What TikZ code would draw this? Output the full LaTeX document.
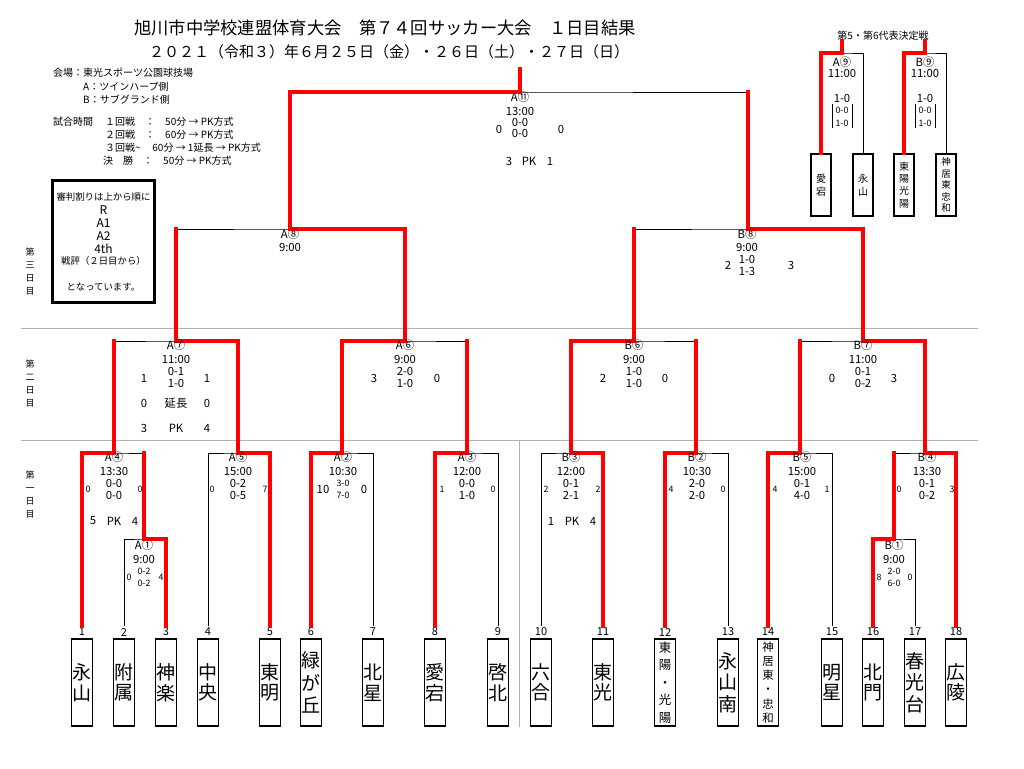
\documentclass[tikz,border=0pt]{standalone}
\usepackage{fontspec}
\setmainfont{Noto Sans CJK JP}
\newcommand{\mtext}[8][txt]{%
  \node[txt] (#2lab) at (#3,#4) {#5};
  \node[txt] (#2tim) at (#3,#4+14) {#6};
  \node[#1] (#2ha) at (#3,#4+26) {#7};
  \node[#1] (#2hb) at (#3,#4+38) {#8};
}
\begin{document}
\begin{tikzpicture}[x=1pt,y=-1pt,
 bk/.style={line width=0.9pt,draw=black},
 rd/.style={line width=3.9pt,draw=red,line cap=rect,line join=miter},
 gr/.style={line width=1pt,draw=black!30},
 txt/.style={inner sep=0pt,font=\fontsize{11.3}{12}\selectfont},
 sm/.style={inner sep=0pt,font=\fontsize{8.8}{10}\selectfont},
 num/.style={inner sep=1.5pt,font=\fontsize{11}{12}\selectfont},
 team/.style={draw,line width=1.3pt,minimum width=21pt,minimum height=87pt,inner sep=0pt,align=center},
 pbox/.style={draw,line width=1.2pt,minimum width=20pt,minimum height=62pt,inner sep=0pt,align=center},
 info/.style={anchor=west,inner sep=0pt,font=\fontsize{10}{12}\selectfont},
 day/.style={inner sep=0pt,align=center,font=\fontsize{9}{13}\selectfont},
 reftxt/.style={inner sep=0pt,font=\fontsize{9.4}{12}\selectfont},
 refbig/.style={inner sep=0pt,font=\fontsize{12}{13}\selectfont},
]
\useasboundingbox (0,0) rectangle (1024,768);
\fill[white] (0,0) rectangle (1024,768);

% titles
\node[inner sep=0pt,font=\fontsize{17.3}{20}\selectfont] (title) at (385,28) {旭川市中学校連盟体育大会　第７４回サッカー大会　１日目結果};
\node[inner sep=0pt,font=\fontsize{15}{18}\selectfont] (sub) at (389,52) {２０２１（令和３）年６月２５日（金）・２６日（土）・２７日（日）};

% info
\node[info] (i1) at (53,73) {会場：東光スポーツ公園球技場};
\node[info] (i2) at (83,87) {A：ツインハープ側};
\node[info] (i3) at (83,100) {B：サブグランド側};
\node[info] (i4) at (53,122) {試合時間};
\node[info] (i5) at (105,122) {１回戦　：　50分 → PK方式};
\node[info] (i6) at (105,135) {２回戦　：　60分 → PK方式};
\node[info] (i7) at (105,148) {３回戦\textasciitilde\,　60分 → 1延長 → PK方式};
\node[info] (i8) at (103,161) {決　勝　：　50分 → PK方式};

% referee box
\node[draw,line width=2.6pt,minimum width=102pt,minimum height=122pt,inner sep=0pt] (ref) at (103.5,241.5) {};
\node[reftxt] (r1) at (103.5,197) {審判割りは上から順に};
\node[refbig] (r2) at (103.5,210) {R};
\node[refbig] (r3) at (103.5,223) {A1};
\node[refbig] (r4) at (103.5,236) {A2};
\node[refbig] (r5) at (103.5,249) {4th};
\node[reftxt] (r6) at (103.5,261) {戦評（２日目から）};
\node[reftxt] (r7) at (103.5,287) {となっています。};

% day labels
\node[day] (d3) at (30,271.5) {第\\三\\日\\目};
\node[day] (d2) at (30,384) {第\\二\\日\\目};
\node[day] (d1) at (30,495) {第\\一\\日\\目};

% grey separators
\draw[gr] (21,328) -- (978,328);
\draw[gr] (21,440) -- (978,440);
\draw[gr] (519,441) -- (519,727);

% team numbers and boxes
\foreach \i/\x in {1/82,2/124,3/166,4/208,5/270,6/311,7/373,8/435,9/498,10/541,11/603,12/665,13/728,14/768,15/832,16/873,17/915,18/956}
  \node[num] (n\i) at (\x,632) {\i};

\begin{scope}[every node/.append style={font=\fontsize{19}{20.5}\selectfont}]
\node[team] (T1) at (82,682.5) {永\\山};
\node[team] (T2) at (124,682.5) {附\\属};
\node[team] (T3) at (166,682.5) {神\\楽};
\node[team] (T4) at (208,682.5) {中\\央};
\node[team] (T5) at (270,682.5) {東\\明};
\node[team,font=\fontsize{19}{22.5}\selectfont] (T6) at (311,682.5) {緑\\が\\丘};
\node[team] (T7) at (373,682.5) {北\\星};
\node[team] (T8) at (435,682.5) {愛\\宕};
\node[team] (T9) at (498,682.5) {啓\\北};
\node[team] (T10) at (541,682.5) {六\\合};
\node[team] (T11) at (603,682.5) {東\\光};
\node[team,font=\fontsize{12.5}{17.5}\selectfont] (T12) at (665,682.5) {東\\陽\\・\\光\\陽};
\node[team,font=\fontsize{19}{21.5}\selectfont] (T13) at (728,682.5) {永\\山\\南};
\node[team,font=\fontsize{11.5}{14.2}\selectfont] (T14) at (768,682.5) {神\\居\\東\\・\\忠\\和};
\node[team] (T15) at (832,682.5) {明\\星};
\node[team] (T16) at (873,682.5) {北\\門};
\node[team,font=\fontsize{19}{21.5}\selectfont] (T17) at (915,682.5) {春\\光\\台};
\node[team] (T18) at (956,682.5) {広\\陵};
\end{scope}

% match points
\coordinate (A1) at (144,539);
\coordinate (B1) at (894,539);
\coordinate (A4) at (114,453);
\coordinate (A5) at (238,453);
\coordinate (A2) at (342,453);
\coordinate (A3) at (467,453);
\coordinate (B3) at (571,453);
\coordinate (B2) at (696,453);
\coordinate (B5) at (800,453);
\coordinate (B4) at (925,453);
\coordinate (A7) at (176,341);
\coordinate (A6) at (405,341);
\coordinate (B6) at (634,341);
\coordinate (B7) at (863,341);
\coordinate (A8) at (290,229);
\coordinate (B8) at (748,229);
\coordinate (A11) at (520,92);
\coordinate (top) at (520,69);

% black brackets
\draw[bk] (n2.north) |- (A1) -| (n3.north);
\draw[bk] (n16.north) |- (B1) -| (n17.north);
\draw[bk] (n1.north) |- (A4) -| (A1);
\draw[bk] (n4.north) |- (A5) -| (n5.north);
\draw[bk] (n6.north) |- (A2) -| (n7.north);
\draw[bk] (n8.north) |- (A3) -| (n9.north);
\draw[bk] (n10.north) |- (B3) -| (n11.north);
\draw[bk] (n12.north) |- (B2) -| (n13.north);
\draw[bk] (n14.north) |- (B5) -| (n15.north);
\draw[bk] (B1) |- (B4) -| (n18.north);
\draw[bk] (A4) |- (A7) -| (A5);
\draw[bk] (A2) |- (A6) -| (A3);
\draw[bk] (B3) |- (B6) -| (B2);
\draw[bk] (B5) |- (B7) -| (B4);
\draw[bk] (A7) |- (A8) -| (A6);
\draw[bk] (B6) |- (B8) -| (B7);
\draw[bk] (A8) |- (A11) -| (B8);

% red winner paths
\draw[rd] (n1.north) |- (A4) -- (A4 |- A7);
\draw[rd] (n3.north) |- (A1) -- (A1 |- A4);
\draw[rd] (n5.north) |- (A5) |- (A7) -- (A7 |- A8);
\draw[rd] (n6.north) |- (A2) |- (A6) |- (A8) |- (A11) -- (top);
\draw[rd] (n8.north) |- (A3) -- (A3 |- A6);
\draw[rd] (n11.north) |- (B3) |- (B6) -- (B6 |- B8);
\draw[rd] (n12.north) |- (B2) -- (B2 |- B6);
\draw[rd] (n14.north) |- (B5) -- (B5 |- B7);
\draw[rd] (n16.north) |- (B1) -- (B1 |- B4);
\draw[rd] (n18.north) |- (B4) |- (B7) |- (B8) -- (B8 |- A11);

% match texts: final
\node[txt] (m11lab) at (520,97.5) {A⑪};
\node[txt] (m11tim) at (520,111) {13:00};
\node[txt] (m11ha) at (520,122) {0-0};
\node[txt] (m11hb) at (520,133) {0-0};
\node[txt] (m11L) at (499,129) {0};
\node[txt] (m11R) at (561,129) {0};
\node[txt] (m11pl) at (509,161) {3};
\node[txt] (m11pk) at (529,161) {PK};
\node[txt] (m11pr) at (550,161) {1};

% third round
\node[txt] (m8lab) at (290,234) {A⑧};
\node[txt] (m8tim) at (290,247) {9:00};
\node[txt] (mb8lab) at (747,234) {B⑧};
\node[txt] (mb8tim) at (747,247) {9:00};
\node[txt] (mb8ha) at (747,259) {1-0};
\node[txt] (mb8hb) at (747,271) {1-3};
\node[txt] (mb8L) at (728,265) {2};
\node[txt] (mb8R) at (791,265) {3};

% second round
\mtext{m7}{176}{345}{A⑦}{11:00}{0-1}{1-0}
\node[txt] (m7L) at (144,378) {1};
\node[txt] (m7R) at (207,378) {1};
\node[txt] (m7el) at (144,403) {0};
\node[txt] (m7e) at (176,403) {延長};
\node[txt] (m7er) at (207,403) {0};
\node[txt] (m7pl) at (144,428) {3};
\node[txt] (m7pk) at (176,428) {PK};
\node[txt] (m7pr) at (207,428) {4};
\mtext{m6}{405}{345}{A⑥}{9:00}{2-0}{1-0}
\node[txt] (m6L) at (374,378) {3};
\node[txt] (m6R) at (437,378) {0};
\mtext{mb6}{634}{345}{B⑥}{9:00}{1-0}{1-0}
\node[txt] (mb6L) at (603,378) {2};
\node[txt] (mb6R) at (665,378) {0};
\mtext{mb7}{863}{345}{B⑦}{11:00}{0-1}{0-2}
\node[txt] (mb7L) at (832,378) {0};
\node[txt] (mb7R) at (894,378) {3};

% first round
\mtext{m4}{114}{457}{A④}{13:30}{0-0}{0-0}
\node[sm] (m4L) at (88,489) {0};
\node[sm] (m4R) at (140,489) {0};
\node[txt] (m4pl) at (93,521) {5};
\node[txt] (m4pk) at (114,521) {PK};
\node[txt] (m4pr) at (135,521) {4};
\mtext{m5}{238}{457}{A⑤}{15:00}{0-2}{0-5}
\node[sm] (m5L) at (212,489) {0};
\node[sm] (m5R) at (265,489) {7};
\mtext[sm]{m2}{343}{457}{A②}{10:30}{3-0}{7-0}
\node[txt] (m2L) at (323,489) {10};
\node[txt] (m2R) at (364,489) {0};
\mtext{m3}{467}{457}{A③}{12:00}{0-0}{1-0}
\node[sm] (m3L) at (442,489) {1};
\node[sm] (m3R) at (493,489) {0};
\mtext{mb3}{571}{457}{B③}{12:00}{0-1}{2-1}
\node[sm] (mb3L) at (546,489) {2};
\node[sm] (mb3R) at (598,489) {2};
\node[txt] (mb3pl) at (551,521) {1};
\node[txt] (mb3pk) at (572,521) {PK};
\node[txt] (mb3pr) at (593,521) {4};
\mtext{mb2}{697}{457}{B②}{10:30}{2-0}{2-0}
\node[sm] (mb2L) at (671,489) {4};
\node[sm] (mb2R) at (723,489) {0};
\mtext{mb5}{802}{457}{B⑤}{15:00}{0-1}{4-0}
\node[sm] (mb5L) at (775,489) {4};
\node[sm] (mb5R) at (827,489) {1};
\mtext{mb4}{927}{457}{B④}{13:30}{0-1}{0-2}
\node[sm] (mb4L) at (899,489) {0};
\node[sm] (mb4R) at (952,489) {3};
\mtext[sm]{m1}{144}{545}{A①}{9:00}{0-2}{0-2}
\node[sm] (m1L) at (129,577) {0};
\node[sm] (m1R) at (161,577) {4};
\mtext[sm]{mb1}{894}{545}{B①}{9:00}{2-0}{6-0}
\node[sm] (mb1L) at (879,577) {8};
\node[sm] (mb1R) at (910,577) {0};

% 5th/6th place play-offs
\node[inner sep=0pt,font=\fontsize{10}{12}\selectfont] (pt) at (883,36) {第5・第6代表決定戦};
\node[pbox,font=\fontsize{10}{13}\selectfont] (P1) at (821,185) {愛\\宕};
\node[pbox,font=\fontsize{10}{13}\selectfont] (P2) at (863,185) {永\\山};
\node[pbox,font=\fontsize{10}{12.3}\selectfont] (P3) at (904,185) {東\\陽\\光\\陽};
\node[pbox,font=\fontsize{9.5}{11.5}\selectfont] (P4) at (946,185) {神\\居\\東\\忠\\和};
\coordinate (A9) at (842,53);
\coordinate (B9) at (925,53);
\draw[bk] (P1.north) |- (A9) -| (P2.north);
\draw[bk] (P3.north) |- (B9) -| (P4.north);
\draw[rd] (P1.north) |- (A9) -- (A9 |- pt.south);
\draw[rd] (P3.north) |- (B9) -- (B9 |- pt.south);
\node[txt] (m9lab) at (842,62) {A⑨};
\node[txt] (m9tim) at (842,73) {11:00};
\node[txt] (m9s) at (842,98) {1-0};
\node[sm] (m9ha) at (842,110) {0-0};
\node[sm] (m9hb) at (842,123) {1-0};
\draw[bk] (832,104) -- (832,128);
\draw[bk] (852,104) -- (852,128);
\node[txt] (mb9lab) at (925,62) {B⑨};
\node[txt] (mb9tim) at (925,73) {11:00};
\node[txt] (mb9s) at (925,98) {1-0};
\node[sm] (mb9ha) at (925,110) {0-0};
\node[sm] (mb9hb) at (925,123) {1-0};
\draw[bk] (915,104) -- (915,128);
\draw[bk] (935,104) -- (935,128);
\end{tikzpicture}
\end{document}
